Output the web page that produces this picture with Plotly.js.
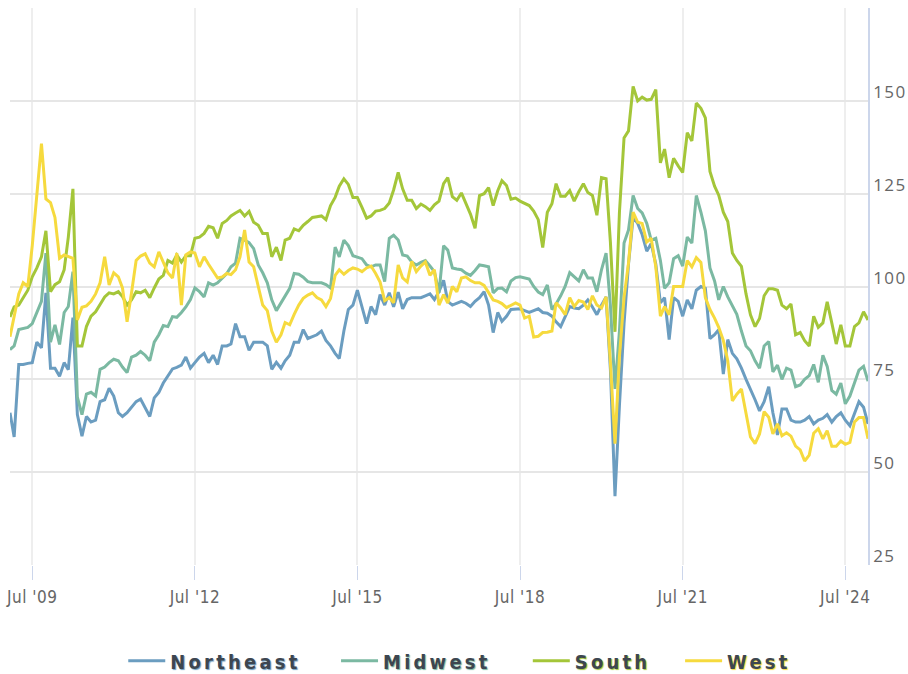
<!DOCTYPE html>
<html>
<head>
<meta charset="utf-8">
<script src="https://cdn.plot.ly/plotly-3.0.1.min.js"></script>
<style>
  html, body { margin: 0; padding: 0; background: #ffffff; }
  #chart { width: 908px; height: 674px; }
  .ytick text { letter-spacing: 1.5px !important; }
  .xtick text { letter-spacing: 0.5px !important; }
</style>
</head>
<body>
<div id="chart"></div>
<script>
// Monthly data, first month = Feb 2009
const startYear = 2009;
const startMonth = 2;

const northeast = [
  66, 59.5, 79, 79, 79.3, 79.5, 85, 83.5, 98.3, 78,
  78, 75.8, 79.5, 77.6, 91.6, 65.5, 59.7, 65, 63.5, 64,
  69, 69.5, 72.6, 70.5, 66, 65, 66, 67.5, 69, 69.7,
  67.5, 65, 70, 71.5, 74, 76, 77.8, 78.2, 78.8, 81,
  78, 79.5, 81, 82, 79.5, 81.5, 79, 84, 84, 84.5,
  90, 86.5, 86.5, 82.8, 85, 85, 85, 84, 77.7, 79.6,
  78, 80, 81.5, 85, 85, 88.4, 86, 86.5, 87, 88,
  85.5, 84, 82, 80.6, 88, 93.8, 95, 99, 94.6, 90,
  94.6, 92.4, 97.8, 95, 98.3, 94.5, 98.5, 94, 96.5, 97,
  97, 97, 97.5, 98, 96.5, 98.6, 101.7, 96, 95, 95.5,
  96, 95.5, 94.6, 96, 97, 98.6, 95, 87.6, 93, 90.6,
  92, 93.8, 94, 94, 93.5, 93, 93.5, 94, 93, 92.8,
  92, 90.5, 89.2, 92, 94.6, 94.2, 94, 95, 96.4, 94.5,
  92.4, 95, 97.2, 77.7, 43.5, 68, 90, 106, 118.6, 117,
  114, 109.5, 111.6, 106, 95.6, 97, 85.7, 97, 96, 92,
  96.4, 94, 99, 100, 99.5, 86, 87, 88.4, 76.4, 85.7,
  82, 80.5, 78, 75, 72.5, 69.5, 66.5, 69, 73, 66,
  60, 67, 67, 64, 63.5, 63.5, 64, 65, 63, 64,
  64.5, 65.5, 63.5, 65, 66, 64, 62.5, 66, 69, 67.5,
  63
];

const midwest = [
  83, 84, 88.4, 88.8, 89, 90, 93, 96, 109, 85,
  89.7, 84.4, 93, 94.6, 104, 70.2, 65.5, 71, 71.5, 70.5,
  77.7, 78.3, 79.5, 80.4, 80, 78.3, 76.8, 81, 81.5, 82.5,
  81.5, 80, 85, 87, 89.5, 89.2, 91.9, 91.7, 93, 94.5,
  96.5, 99.6, 98.6, 97.2, 101, 100.4, 101, 102.3, 103.5, 105.3,
  106.3, 113, 112.5, 111.8, 110.2, 105.8, 103.7, 101, 96.4, 93.5,
  95.5, 97.5, 99.5, 103.5, 103.3, 102.5, 101.3, 101, 101, 101,
  100.5, 99.6, 110.6, 108, 112.5, 111, 108.3, 108, 107.5, 105.8,
  105.3, 105.8, 105.8, 101.3, 113, 113.8, 112.5, 108.5, 108.2, 106.6,
  105.8, 106.5, 107, 105.5, 104, 98.3, 111, 109.8, 105, 104.7,
  104.5, 103.6, 103, 104.3, 105.8, 105.6, 105.3, 98.3, 99.5, 99.6,
  98.6, 101.5, 102.4, 102.6, 102.4, 102, 100, 98.5, 97.8, 100.4,
  93.8, 95.3, 97.5, 100, 103.7, 102.5, 101.5, 104.5, 102.3, 102.3,
  98.6, 104.5, 109, 95, 72.4, 88, 111.7, 115.2, 124.5, 121,
  119.8, 117, 112.5, 113, 107, 99.5, 101, 107.5, 108.3, 105.5,
  113.3, 111.7, 124.5, 120, 115, 105, 101.5, 96.4, 100, 97.2,
  95, 92.5, 88, 84, 82.7, 80, 78, 84, 85.2, 77,
  78.8, 75, 78, 77.5, 73, 73.5, 75, 76, 79, 74.2,
  81.5, 78.5, 72, 71, 74, 68.4, 70.5, 74, 77.5, 78.5,
  74.5
];

const south = [
  91.8, 94.5, 95, 97, 99, 102.6, 105, 108, 115, 98.6,
  100.5, 101.3, 104.5, 113.3, 126.3, 84, 84, 89.2, 92, 93.2,
  95, 97.2, 98.3, 98, 98.6, 97.3, 95, 96.4, 98.6, 98.3,
  99, 97, 99.6, 102, 103, 107, 106.3, 108.5, 106.6, 108.3,
  108.3, 113, 113.3, 114.3, 116.2, 115.8, 113, 117, 117.8, 119,
  119.8, 120.5, 119, 120.2, 117.3, 116.5, 114.3, 114.3, 108, 110.6,
  107, 112.5, 113, 115.5, 115, 116.5, 117.5, 118.6, 118.8, 119,
  118, 121.8, 124, 127, 129, 127.5, 124, 124, 121.3, 118.4,
  119, 120.3, 120.5, 121, 122.5, 126, 130.7, 126.3, 123.2, 123.2,
  121, 122.2, 121.5, 120.5, 122, 123, 127.7, 129.3, 124.2, 123.2,
  125.2, 122.5, 119.5, 115.7, 124.5, 125, 126.6, 121.8, 125.8, 128.5,
  127.2, 123.5, 123.8, 123, 122.5, 121.8, 120.3, 118, 110.5, 120,
  122.3, 127.7, 124.3, 124.3, 125.8, 123, 125.5, 127.7, 125.3, 124.5,
  119.2, 129.3, 129, 112, 87.8, 120, 140, 141.9, 153.9, 150,
  151, 150.2, 150.4, 153, 133.3, 137, 129.3, 134.5, 132.5, 130.7,
  141.4, 139.2, 149.4, 148, 145.4, 131, 127, 124.6, 120, 117.5,
  109, 107, 105.4, 98, 92.4, 89.2, 91.4, 97.5, 99.4, 99.4,
  99, 95, 94, 95.3, 87, 87.6, 85.4, 84, 92, 89,
  90.2, 95.9, 90.2, 84.5, 89.7, 84, 84, 89.2, 90.2, 93.2,
  91
];

const west = [
  86.5, 92, 98, 101, 100, 111, 124.5, 138.5, 123.6, 122.6,
  118.6, 107.6, 108.5, 108, 107.6, 91, 94.4, 94.8, 96, 98,
  101, 108, 100.4, 103.7, 102.6, 99.6, 90.5, 98.3, 107, 108.2,
  108.8, 106.3, 105.3, 109.3, 106.5, 103.7, 102.3, 109, 95, 108.5,
  109.3, 109, 105.3, 108, 106, 104, 102.3, 102.6, 103.5, 103.2,
  104.5, 108, 115.2, 106.6, 105.3, 100, 95, 93.5, 88, 85,
  87, 90.3, 89.7, 92.5, 95, 96.8, 97.7, 98.3, 97, 96.4,
  94.6, 96.8, 103, 104.5, 103.3, 104.3, 105, 104.7, 104, 105,
  105.5, 103.5, 101.2, 96.2, 97, 95.6, 105.8, 102.3, 101.2, 106.8,
  104, 105.5, 106.6, 103, 104.5, 95, 97.8, 95.5, 100, 98.6,
  102.3, 102.6, 101.6, 101, 101, 100.3, 98.5, 96.4, 96, 95.4,
  94.3, 95, 95.6, 95, 91.5, 92, 86.4, 86.6, 87.6, 87.7,
  88, 95.6, 94.2, 92.4, 97, 94.6, 96.2, 95.8, 93.8, 97.5,
  95, 94.2, 97.2, 79.6, 57.7, 81.2, 97, 106.3, 120, 117.3,
  117, 112, 113, 105.3, 92, 94.6, 92.4, 100, 100, 100,
  107, 105.3, 107.8, 106.5, 97, 93.8, 91.5, 89, 85.5, 80,
  69.2, 71, 72.4, 65.4, 59.5, 57.7, 60.3, 66.3, 64.8, 60.3,
  63, 59.8, 60.6, 59.7, 57, 56, 53, 54.6, 60.5, 61.7,
  59, 61.2, 57, 57, 58.4, 57.5, 58, 63.5, 64.7, 64.7,
  59
];

const seriesNames = ["Northeast", "Midwest", "South", "West"];
const seriesColors = ["#6b9dc0", "#7bb9a2", "#a4c639", "#f6da3e"];

const xTickDates = ["2009-07-01", "2012-07-01", "2015-07-01", "2018-07-01", "2021-07-01", "2024-07-01"];
const xTickLabels = ["Jul '09", "Jul '12", "Jul '15", "Jul '18", "Jul '21", "Jul '24"];
const yTickValues = [25, 50, 75, 100, 125, 150, 175];
const yTickLabels = ["25", "50", "75", "100", "125", "150", ""];

function monthDates(n) {
  const out = [];
  for (let i = 0; i < n; i++) {
    const m0 = (startMonth - 1) + i;
    const y = startYear + Math.floor(m0 / 12);
    const m = (m0 % 12) + 1;
    out.push(y + "-" + String(m).padStart(2, "0") + "-01");
  }
  return out;
}

const allValues = [northeast, midwest, south, west];
const legendIds = ["legend", "legend2", "legend3", "legend4"];

const traces = allValues.map((vals, k) => ({
  type: "scatter",
  mode: "lines",
  name: seriesNames[k],
  x: monthDates(vals.length),
  y: vals,
  line: { color: seriesColors[k], width: 3 },
  legend: legendIds[k],
  hoverinfo: "x+y+name"
}));

const legendX = [0.132, 0.380, 0.6035, 0.781];
function legendCfg(k) {
  return {
    x: legendX[k], y: -0.172, xanchor: "left", yanchor: "middle",
    orientation: "h", bgcolor: "rgba(0,0,0,0)", borderwidth: 0,
    itemwidth: 37,
    entrywidth: 160,
    font: {
      family: "'Liberation Sans Narrow', 'DejaVu Sans Condensed', 'Open Sans', sans-serif",
      size: 20, weight: 700, color: "#3d4650",
      shadow: "1px 1px 1px " + seriesColors[k]
    }
  };
}

const layout = {
  width: 908, height: 674,
  margin: { l: 10, r: 40, t: 8, b: 109, pad: 0, autoexpand: false },
  paper_bgcolor: "#ffffff",
  plot_bgcolor: "#ffffff",
  showlegend: true,
  xaxis: {
    type: "date",
    range: ["2009-02-01", "2024-12-01"],
    tickmode: "array",
    tickvals: xTickDates,
    ticktext: xTickLabels,
    showgrid: true, gridcolor: "#eeeeee", gridwidth: 1.5,
    ticks: "outside", ticklen: 14, tickcolor: "#ccd6eb", tickwidth: 1,
    ticklabelstandoff: 3,
    showline: false, zeroline: false,
    tickfont: { family: "'Liberation Sans Narrow', 'DejaVu Sans Condensed', sans-serif", size: 17, color: "#666666" }
  },
  yaxis: {
    side: "right",
    range: [25, 175],
    tickmode: "array",
    tickvals: yTickValues,
    ticktext: yTickLabels,
    showgrid: true, gridcolor: "#e6e6e6", gridwidth: 1.5,
    showline: true, linecolor: "#ccd6eb", linewidth: 1.5,
    ticks: "", zeroline: false,
    ticklabelposition: "outside top",
    ticklabelshift: 3,
    tickfont: { family: "'Open Sans', sans-serif", size: 17, color: "#666666" }
  },
  legend: legendCfg(0),
  legend2: legendCfg(1),
  legend3: legendCfg(2),
  legend4: legendCfg(3)
};

Plotly.newPlot("chart", traces, layout, { displayModeBar: false, responsive: false }).then(function (gd) {
  gd.querySelectorAll("text").forEach(function (t) {
    if (seriesNames.indexOf(t.textContent) >= 0) {
      t.style.setProperty("letter-spacing", "3.2px", "important");
    }
  });
});
</script>
</body>
</html>
